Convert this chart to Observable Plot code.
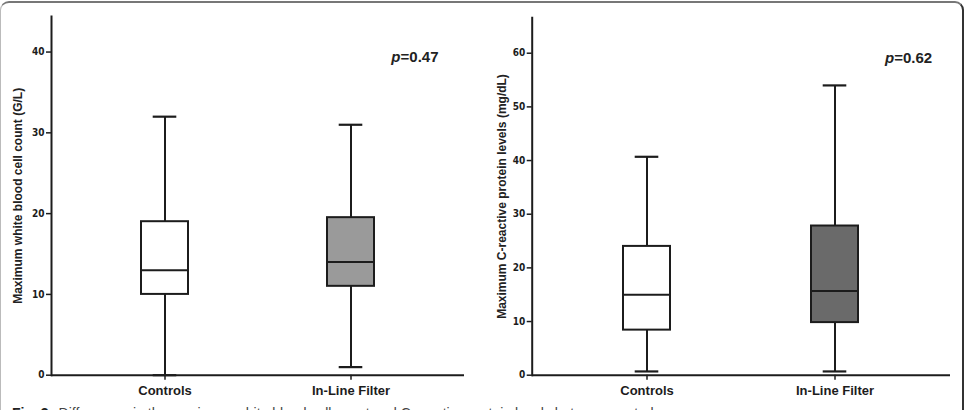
<!DOCTYPE html>
<html>
<head>
<meta charset="utf-8">
<script src="https://cdn.jsdelivr.net/npm/d3@7"></script>
<script src="https://cdn.jsdelivr.net/npm/@observablehq/plot@0.6"></script>
<style>
  html, body { margin: 0; padding: 0; background: #fff; }
  #figure { position: relative; width: 969px; height: 410px; overflow: hidden; font-family: "Liberation Sans", Arial, sans-serif; }
  #box-frame { position: absolute; left: 0; top: 1px; width: 961px; height: 440px;
    border-top: 2px solid #777; border-right: 2px solid #333; border-left: 1px solid #bbb;
    border-radius: 9px; }
  .panel { position: absolute; top: 0; }
  #caption { position: absolute; left: 12px; top: 406px; font-size: 14px; line-height: 1; color: #444; white-space: nowrap; }
  #caption b { margin-right: 10px; color: #222; }
</style>
</head>
<body>
<div id="figure">
  <div id="box-frame"></div>
  <div id="left" class="panel" style="left:0px"></div>
  <div id="right" class="panel" style="left:480px"></div>
  <div id="caption"><b>Fig. 3</b>Differences in the maximum white blood cell count and C-reactive protein levels between controls</div>
</div>
<script>
// Groups on the x axis
const groups = ["Controls", "In-Line Filter"];

// Maximum white blood cell count (G/L): whisker ends, quartiles, median per group
const wbcLow = [0, 1];
const wbcQ1 = [10, 11];
const wbcMedian = [13, 14];
const wbcQ3 = [19, 19.5];
const wbcHigh = [32, 31];
const wbcTicks = [0, 10, 20, 30, 40];
const wbcP = 0.47;

// Maximum C-reactive protein levels (mg/dL)
const crpLow = [0.7, 0.7];
const crpQ1 = [8.4, 9.8];
const crpMedian = [15, 15.7];
const crpQ3 = [24, 27.8];
const crpHigh = [40.7, 54];
const crpTicks = [0, 10, 20, 30, 40, 50, 60];
const crpP = 0.62;

const ink = "#1c1c1c";
const narrow = "'Liberation Sans Narrow', 'DejaVu Sans Condensed', 'Liberation Sans', sans-serif";

function boxPanel(o) {
  const rows = groups.map((g, i) => ({
    group: g, low: o.low[i], q1: o.q1[i], median: o.median[i], q3: o.q3[i], high: o.high[i], fill: o.fills[i]
  }));
  const svg = Plot.plot({
    width: o.width,
    height: 400,
    marginLeft: o.marginLeft,
    marginRight: o.marginRight,
    marginTop: o.marginTop,
    marginBottom: 25.3,
    style: { background: "transparent", overflow: "visible", fontFamily: "'Liberation Sans', Arial, sans-serif", color: ink },
    x: { domain: groups, paddingInner: 0.75, paddingOuter: 0.485, label: null },
    y: { domain: [0, o.yMax], label: null },
    color: { type: "identity" },
    marks: [
      Plot.axisY(o.ticks, { tickSize: 5, tickPadding: 2, fontSize: 10, fontWeight: "bold", fontFamily: narrow, strokeWidth: 1.5, label: null }),
      Plot.axisX({ tickSize: 5, tickPadding: 6, fontSize: 13, fontWeight: "bold", strokeWidth: 1.5, label: null }),
      // whiskers
      Plot.ruleX(rows, { x: "group", y1: "low", y2: "q1", stroke: ink, strokeWidth: 2 }),
      Plot.ruleX(rows, { x: "group", y1: "q3", y2: "high", stroke: ink, strokeWidth: 2 }),
      Plot.tickY(rows, { x: "group", y: "high", inset: 11.7, stroke: ink, strokeWidth: 2.2 }),
      Plot.tickY(rows, { x: "group", y: "low", inset: 11.7, stroke: ink, strokeWidth: 2.2 }),
      // boxes and medians
      Plot.barY(rows, { x: "group", y1: "q1", y2: "q3", fill: "fill", stroke: ink, strokeWidth: 2 }),
      Plot.tickY(rows, { x: "group", y: "median", stroke: ink, strokeWidth: 2 }),
      // axis lines
      Plot.frame({ anchor: "left", stroke: ink, strokeWidth: 2 }),
      Plot.ruleY([0], { stroke: ink, strokeWidth: 2 }),
      // y axis title
      Plot.text([o.title], { frameAnchor: "left", textAnchor: "middle", rotate: -90, dx: o.titleDx, fontSize: 12, fontWeight: "bold", fill: "#222" }),
      // p-value
      Plot.text([o.p], { frameAnchor: "top-right", dx: o.pDx, dy: o.pDy, textAnchor: "end", text: d => "p=" + d.toFixed(2),
        fontSize: 15, fontWeight: "bold", fill: "#222" })
    ]
  });
  // italic p in the p-value label
  const label = "p=" + o.p.toFixed(2);
  d3.select(svg).selectAll("text").filter(function () { return this.textContent === label; }).each(function () {
    const t = d3.select(this);
    t.selectAll("*").remove();
    t.text(null);
    t.append("tspan").attr("font-style", "italic").style("font-style", "italic").text("p");
    t.append("tspan").text("=" + o.p.toFixed(2));
  });
  return svg;
}

document.getElementById("left").append(boxPanel({
  width: 480, marginLeft: 51, marginRight: 16, marginTop: 16, yMax: 44.4,
  low: wbcLow, q1: wbcQ1, median: wbcMedian, q3: wbcQ3, high: wbcHigh, ticks: wbcTicks,
  fills: ["white", "#9a9a9a"], title: "Maximum white blood cell count (G/L)", titleDx: -33.5,
  p: wbcP, pDx: -26, pDy: 35
}));

document.getElementById("right").append(boxPanel({
  width: 489, marginLeft: 51.7, marginRight: 19, marginTop: 17.3, yMax: 66.6,
  low: crpLow, q1: crpQ1, median: crpMedian, q3: crpQ3, high: crpHigh, ticks: crpTicks,
  fills: ["white", "#6a6a6a"], title: "Maximum C-reactive protein levels (mg/dL)", titleDx: -30,
  p: crpP, pDx: -18.3, pDy: 34.7
}));
</script>
</body>
</html>
